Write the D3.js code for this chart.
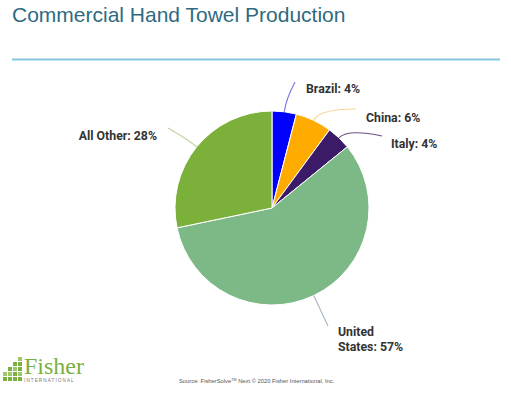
<!DOCTYPE html>
<html lang="en">
<head>
    <meta charset="UTF-8">
    <title>Commercial Hand Towel Production</title>
    <script src="https://d3js.org/d3.v7.min.js"></script>
    <style>
        body { margin: 0; background: #fff; }
        svg { display: block; }
    </style>
</head>
<body>
<svg id="chart" width="511" height="393"></svg>

<script>
    // data
    const countries = ["Brazil", "China", "Italy", "United States", "All Other"];
    const shares = [4, 6, 4, 57, 28];
    const colors = ["#0000ff", "#ffab00", "#3b1a68", "#7db987", "#7bb03a"];
    const lineColors = ["#7b7be8", "#f7d596", "#6b5287", "#a9b9c6", "#bcd69c"];

    // label placement (layout only)
    const labelPos = [
        {lx: 295, ly: 82, tx: 306, ty: 93, anchor: "start"},
        {lx: 356, ly: 109, tx: 366, ty: 122, anchor: "start"},
        {lx: 382, ly: 136, tx: 391, ty: 148, anchor: "start"},
        {lx: 328, ly: 326, tx: 338, ty: 336, anchor: "start"},
        {lx: 168, ly: 128, tx: 157, ty: 140, anchor: "end"}
    ];

    const svg = d3.select("#chart");
    const cx = 272, cy = 208, r = 97;

    // title + rule
    svg.append("text")
        .attr("x", 12).attr("y", 22)
        .attr("font-family", "'Liberation Sans', Arial, sans-serif")
        .attr("font-size", 21)
        .attr("fill", "#2f6a80")
        .text("Commercial Hand Towel Production");

    svg.append("line")
        .attr("x1", 12).attr("x2", 500)
        .attr("y1", 59.5).attr("y2", 59.5)
        .attr("stroke", "#86c6e2")
        .attr("stroke-width", 2);

    const pie = d3.pie().sort(null).value(d => d)(shares);
    const arc = d3.arc().innerRadius(0).outerRadius(r);
    const rim = d3.arc().innerRadius(r).outerRadius(r);
    const outer = d3.arc().innerRadius(r * 1.13).outerRadius(r * 1.13);

    const g = svg.append("g").attr("transform", `translate(${cx},${cy})`);

    g.selectAll("path.slice")
        .data(pie)
        .enter().append("path")
        .attr("class", "slice")
        .attr("d", arc)
        .attr("fill", (d, i) => colors[i])
        .attr("stroke", "#fff")
        .attr("stroke-width", 1);

    // leader lines
    svg.selectAll("path.leader")
        .data(pie)
        .enter().append("path")
        .attr("class", "leader")
        .attr("d", (d, i) => {
            const s = rim.centroid(d), c = outer.centroid(d);
            const p = d3.path();
            p.moveTo(cx + s[0], cy + s[1]);
            p.quadraticCurveTo(cx + c[0], cy + c[1], labelPos[i].lx, labelPos[i].ly);
            return p.toString();
        })
        .attr("fill", "none")
        .attr("stroke", (d, i) => lineColors[i])
        .attr("stroke-width", 1.2);

    // labels
    const labels = svg.selectAll("text.lbl")
        .data(pie)
        .enter().append("text")
        .attr("class", "lbl")
        .attr("x", (d, i) => labelPos[i].tx)
        .attr("y", (d, i) => labelPos[i].ty)
        .attr("text-anchor", (d, i) => labelPos[i].anchor)
        .attr("font-family", "Roboto, sans-serif")
        .attr("font-weight", "bold")
        .attr("font-size", 12.3)
        .attr("fill", "#333");

    labels.each(function(d, i) {
        const t = d3.select(this);
        const words = countries[i] + ": " + shares[i] + "%";
        if (countries[i] === "United States") {
            t.append("tspan").attr("x", labelPos[i].tx).text("United");
            t.append("tspan").attr("x", labelPos[i].tx).attr("dy", 15).text("States: " + shares[i] + "%");
        } else {
            t.text(words);
        }
    });

    // logo
    const logo = svg.append("g");
    const blocks = [
        [3, 372, 4, 4], [3, 377, 4, 4],
        [8, 367, 4, 4], [8, 372, 4, 4], [8, 377, 4, 4],
        [13, 362, 4, 4], [13, 367, 4, 4], [13, 372, 4, 4], [13, 377, 4, 4],
        [18, 357, 4, 4], [18, 362, 4, 4], [18, 367, 4, 4], [18, 372, 4, 4], [18, 377, 4, 4]
    ];
    logo.selectAll("rect")
        .data(blocks)
        .enter().append("rect")
        .attr("x", d => d[0]).attr("y", d => d[1])
        .attr("width", d => d[2]).attr("height", d => d[3])
        .attr("fill", (d, i) => i % 3 === 0 ? "#9cc86a" : "#7ab040");

    logo.append("text")
        .attr("x", 24).attr("y", 374)
        .attr("font-family", "'Liberation Serif', 'DejaVu Serif', serif")
        .attr("font-size", 24)
        .attr("fill", "#7ab040")
        .text("Fisher");

    logo.append("text")
        .attr("x", 24).attr("y", 382)
        .attr("font-family", "'Liberation Sans', sans-serif")
        .attr("font-size", 4.6)
        .attr("letter-spacing", 1.1)
        .attr("fill", "#777")
        .text("INTERNATIONAL");

    // source
    const src = svg.append("text")
        .attr("x", 179).attr("y", 383)
        .attr("font-family", "'Liberation Sans', Arial, sans-serif")
        .attr("font-size", 5.8)
        .attr("fill", "#555");
    src.append("tspan").text("Source: FisherSolve");
    src.append("tspan").attr("dy", -2).attr("font-size", 3.7).text("TM");
    src.append("tspan").attr("dy", 2).text(" Next \u00a9 2020 Fisher International, Inc.");
</script>
</body>
</html>
